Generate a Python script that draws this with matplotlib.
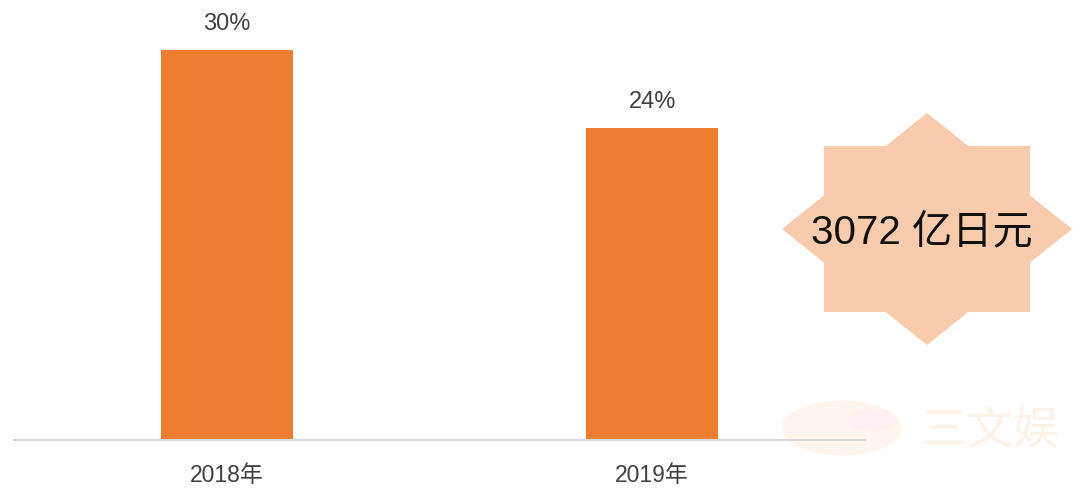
import matplotlib.pyplot as plt
from matplotlib.patches import Polygon, Ellipse

plt.rcParams['font.family'] = ['Liberation Sans', 'Noto Sans CJK SC', 'DejaVu Sans']

years = ["2018年", "2019年"]
shares = [30, 24]
bar_labels = ["30%", "24%"]
badge_text = "3072 亿日元"
watermark = "三文娱"

bar_color = "#ED7D31"
star_color = "#F8CBAD"

fig = plt.figure(figsize=(10.8, 4.93), dpi=100)
ax = fig.add_axes([14 / 1080, 53 / 493, 851 / 1080, 429 / 493], zorder=1)
ax.patch.set_alpha(0)

x = range(len(years))
bars = ax.bar(x, shares, width=0.31, color=bar_color, zorder=2)
for b, lab in zip(bars, bar_labels):
    ax.annotate(lab, (b.get_x() + b.get_width() / 2, b.get_height()),
                xytext=(0, 19), textcoords="offset points", ha="center", va="center",
                fontsize=17, color="#404040")

ax.set_xlim(-0.5, 1.5)
ax.set_ylim(0, 33)
ax.set_xticks(list(x))
ax.set_xticklabels(years, fontsize=16.5, color="#404040")
ax.tick_params(axis="x", length=0, pad=17)
ax.set_yticks([])
for s in ["top", "left", "right"]:
    ax.spines[s].set_visible(False)
ax.spines["bottom"].set_color("#d9d9d9")
ax.spines["bottom"].set_linewidth(1.5)

# 8-pointed badge: rectangle + diamond, in figure pixels
W, H = 1080, 493
cx, cy = 927, 229
rw, rh = 103, 83      # rectangle half sizes
dw, dh = 145, 116     # diamond half sizes
rect = [(cx - rw, cy - rh), (cx + rw, cy - rh), (cx + rw, cy + rh), (cx - rw, cy + rh)]
diam = [(cx, cy - dh), (cx + dw, cy), (cx, cy + dh), (cx - dw, cy)]
for pts in (rect, diam):
    fig.patches.append(Polygon([(px / W, 1 - py / H) for px, py in pts], closed=True,
                               facecolor=star_color, edgecolor="none",
                               transform=fig.transFigure, zorder=3))
fig.text(922 / W, 1 - 232 / H, badge_text, ha="center", va="center",
         fontsize=29, color="#111111", zorder=4)

# faint watermark
fig.patches.append(Ellipse((842 / W, 1 - 428 / H), 120 / W, 55 / H, angle=28,
                           facecolor="#FEF5EE", edgecolor="none",
                           transform=fig.transFigure, zorder=-2))
fig.patches.append(Ellipse((872 / W, 1 - 420 / H), 50 / W, 22 / H, angle=35,
                           facecolor="#FDF0F3", edgecolor="none",
                           transform=fig.transFigure, zorder=-1))
fig.text(990 / W, 1 - 432 / H, watermark, ha="center", va="center",
         fontsize=33, color="#FDF1E8", zorder=-1)

fig.savefig("out.png", dpi=100)
